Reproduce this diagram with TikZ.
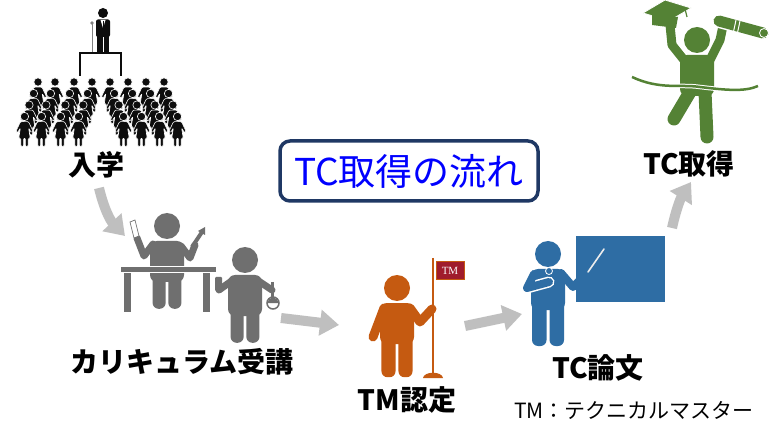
\documentclass[tikz,border=0pt]{standalone}
\usepackage{fontspec}
\usetikzlibrary{arrows.meta,shapes}
\newfontfamily\jp{Noto Sans CJK JP}
\newfontfamily\flagfont{Liberation Serif}

\definecolor{crowdblack}{HTML}{0D0D0D}
\definecolor{labgray}{HTML}{6F6F6F}
\definecolor{tmorange}{HTML}{C55A11}
\definecolor{flagred}{HTML}{A01C2C}
\definecolor{tcblue}{HTML}{2E6DA4}
\definecolor{gradgreen}{HTML}{548235}
\definecolor{arrowgray}{HTML}{BFBFBF}
\definecolor{boxnavy}{HTML}{1F3864}

\tikzset{
	pics/torso/.style={code={
		\fill (0,0) circle (13);
		\fill[rounded corners=7] (-17,15) rectangle (17,56);
	}},
	pics/figure/.style={code={
		\pic {torso};
		\fill[rounded corners=6] (-16,46) rectangle (-1.5,92);
		\fill[rounded corners=6] (1.5,46) rectangle (16,92);
	}},
	pics/kid/.style={code={
		\filldraw[draw=white,line width=0.6] (0,0) circle (3.6);
		\filldraw[draw=white,line width=0.6,rounded corners=1] (-3.5,4.5) -- (3.5,4.5) -- (7.5,13) -- (6,14) -- (3.6,10) -- (5,19) -- (3.2,19) -- (3.2,26) -- (0.8,26) -- (0.8,19) -- (-0.8,19) -- (-0.8,26) -- (-3.2,26) -- (-3.2,19) -- (-5,19) -- (-3.6,10) -- (-6,14) -- (-7.5,13) -- cycle;
	}},
	arm/.style={line width=#1,line cap=round,line join=round},
	arm/.default=8,
	flow/.style={draw=arrowgray,line width=10,-{Triangle[width=25pt,length=19pt]}},
	stage/.style={font=\jp\bfseries\fontsize{28}{28}\selectfont,inner sep=0},
	titlebox/.style={draw=boxnavy,line width=3.5,rounded corners=10,fill=white,text=blue,minimum width=258,minimum height=60,font=\jp\fontsize{37}{37}\selectfont},
	flag/.style={fill=flagred,draw=tmorange,line width=1,minimum width=28,minimum height=18,inner sep=0,text=white,font=\flagfont\fontsize{11}{11}\selectfont},
}

\begin{document}
\begin{tikzpicture}[x=1pt,y=-1pt]
	\fill[white] (0,0) rectangle (770,427);
	\useasboundingbox (0,0) rectangle (770,427);

	% entrance ceremony
	\fill[crowdblack] (103,13) circle (5);
	\fill[crowdblack,rounded corners=2] (96,19.5) rectangle (110,37);
	\fill[crowdblack] (97,34) rectangle (102.5,52);
	\fill[crowdblack] (103.5,34) rectangle (109,52);
	\fill[white] (100.5,20) -- (105.5,20) -- (103,28) -- cycle;
	\draw[crowdblack,line width=1] (103,21) -- (103,28);
	\draw[gray,line width=1] (92,24) -- (92,52);
	\fill[gray] (92,23) circle (1.8);
	\draw[crowdblack,line width=2.5] (80,76) -- (80,53) -- (121,53) -- (121,76);
	\foreach \r in {0,...,3} {
		\foreach \cx in {38,55,74,92}
			\pic[crowdblack,scale=1.15] at ({\cx-4.5*\r},{82+11.5*\r}) {kid};
		\foreach \cx in {110,128,146,164}
			\pic[crowdblack,scale=1.15] at ({\cx+4.5*\r},{82+11.5*\r}) {kid};
	}

	% curriculum
	\pic[labgray,scale=0.9] at (167,226) {figure};
	\draw[labgray,arm=7] (153,244) -- (144,256) -- (137,238);
	\filldraw[draw=labgray,fill=white,line width=0.7] (130,222) -- (135,220) -- (139,236) -- (134,238) -- cycle;
	\draw[labgray,arm=7] (181,246) -- (190,258) -- (195,245);
	\draw[labgray,line width=4] (192,247) -- (202,232);
	\fill[labgray] (198,231) -- (205,227) -- (205,235) -- cycle;
	\filldraw[draw=white,fill=labgray,line width=1] (120,267) rectangle (216,273);
	\filldraw[draw=white,fill=labgray,line width=1] (123,273) rectangle (131,312);
	\filldraw[draw=white,fill=labgray,line width=1] (202,273) rectangle (210,312);

	\pic[labgray,scale=0.9] at (245,260) {figure};
	\draw[labgray,arm=7] (233,280) -- (219,290);
	\draw[labgray,arm=7] (257,280) -- (272,290);
	\fill[labgray,rounded corners=1] (215,277) rectangle (222,291);
	\draw[labgray,line width=3] (272,282) -- (272,297);
	\filldraw[draw=labgray,fill=white,line width=1.5] (273,303) circle (6);
	\fill[labgray] (267.5,303) arc[start angle=180,end angle=360,radius=5.5] -- cycle;

	% TM certification
	\pic[tmorange,scale=0.97] at (397,288) {figure};
	\draw[tmorange,arm=9] (384,308) -- (373,337);
	\draw[tmorange,arm=9] (410,308) -- (420,322) -- (432,309);
	\draw[tmorange,line width=2.5] (433,258) -- (433,375);
	\fill[tmorange] (423,378) .. controls (424,371) and (442,371) .. (443,378) -- cycle;
	\node[flag] (tmflag) at (450,271) {TM};

	% thesis
	\fill[tcblue] (576,236) rectangle (665,302);
	\pic[tcblue] at (548,254) {figure};
	\draw[tcblue,arm=8] (561,273) -- (573,287) -- (587,273);
	\draw[tcblue,line width=3.4,line cap=round] (587,273) -- (604,249);
	\draw[white!85!gray,line width=1.6,line cap=round] (588,272) -- (604,249);
	\draw[white,arm=11] (527,288) -- (549,282);
	\draw[tcblue,arm=8] (534,274) -- (527,288) -- (549,282);
	\filldraw[draw=white,fill=tcblue,line width=0.8] (549,271) circle (3.5);

	% TC acquired
	\fill[gradgreen,draw=white,line width=0.8] (643,13) -- (665,0) -- (691,8) -- (669,21) -- cycle;
	\fill[gradgreen] (652,15) -- (652,25) -- (676,28) -- (678,17) -- cycle;
	\draw[gradgreen,line width=1.2] (685,9) -- (687,17);
	\pic[gradgreen] at (697,40) {torso};
	\draw[gradgreen,arm=13] (690,92) -- (674,119);
	\draw[gradgreen,arm=13] (705,92) -- (707,137);
	\draw[gradgreen,arm=9] (684,60) -- (672,45) -- (670,25);
	\draw[gradgreen,arm=9] (710,60) -- (720,40) -- (724,21);
	\draw[white,line width=14,line cap=round] (719,21) -- (763,33);
	\draw[gradgreen,line width=11,line cap=round] (719,21) -- (763,33);
	\draw[white,line width=0.8] (764,33) circle (4.5);
	\draw[white,line width=1] (736,20) -- (733,34) (740,21) -- (737,35);
	\draw[white,line width=4.5] (632,77) .. controls (660,90) and (680,84) .. (700,87) .. controls (725,90) and (745,92) .. (758,86);
	\draw[gradgreen,line width=2.5] (632,77) .. controls (660,90) and (680,84) .. (700,87) .. controls (725,90) and (745,92) .. (758,86);

	\node[stage] (enroll) at (96,165) {入学};
	\node[stage] (course) at (182,362) {カリキュラム受講};
	\node[stage] (tmcert) at (407,400) {TM認定};
	\node[stage] (thesis) at (598,368) {TC論文};
	\node[stage] (tcget) at (689,164) {TC取得};
	\node[titlebox] (title) at (409,171) {TC取得の流れ};
	\node[font=\jp\fontsize{21}{21}\selectfont,inner sep=0] (tmnote) at (634,410) {TM：テクニカルマスター};

	\coordinate (a1s) at (99,188);
	\coordinate (a1e) at (125,236);
	\coordinate (a2s) at (281,318);
	\coordinate (a2e) at (339,325);
	\coordinate (a3s) at (465,326);
	\coordinate (a3e) at (522,314);
	\coordinate (a4s) at (672,228);
	\coordinate (a4e) at (691,182);
	\path[flow] (a1s) to[bend right=15] (a1e);
	\path[flow] (a2s) -- (a2e);
	\path[flow] (a3s) -- (a3e);
	\path[flow] (a4s) to[bend left=10] (a4e);
\end{tikzpicture}
\end{document}
